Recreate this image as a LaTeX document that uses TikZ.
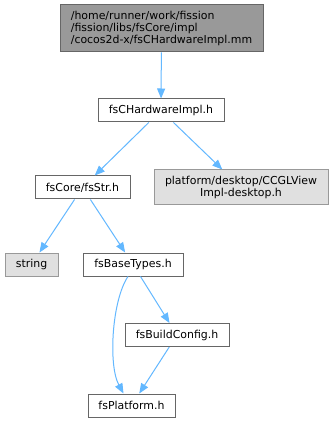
\documentclass[tikz,border=0pt]{standalone}
\usepackage{fontspec}
\setmainfont{DejaVu Sans}
\usetikzlibrary{arrows.meta,calc}
\definecolor{edgeblue}{HTML}{63B8FF}
\definecolor{boxgray}{HTML}{666666}
\definecolor{lightfill}{HTML}{E0E0E0}
\definecolor{darkfill}{HTML}{999999}
\begin{document}
\begin{tikzpicture}[x=0.75pt,y=-0.75pt,
  box/.style={draw=boxgray, fill=white, line width=0.75pt, inner sep=2pt,
    font=\fontsize{8.2}{9.3}\selectfont, minimum height=17.25pt},
  extbox/.style={box, draw=darkfill, fill=lightfill},
  edge/.style={draw=edgeblue, line width=0.75pt, -{Triangle[length=7.5pt,width=6pt]}}]
\fill[white] (0,0) rectangle (333,423);
\useasboundingbox (0,0) rectangle (333,423);
\node[box, fill=darkfill, align=left, minimum width=152.25pt, minimum height=35.25pt] (top) at (161.5,28.5)
  {/home/runner/work/fission\\/fission/libs/fsCore/impl\\/cocos2d-x/fsCHardwareImpl.mm};
\node[box, minimum width=94.5pt] (hw) at (161,110.5) {fsCHardwareImpl.h};
\node[box, minimum width=71.25pt] (str) at (82.5,187.5) {fsCore/fsStr.h};
\node[extbox, align=center, minimum width=130.5pt, minimum height=26.25pt] (plat) at (241,187.5)
  {platform/desktop/CCGLView\\Impl-desktop.h};
\node[extbox, minimum width=39.75pt] (string) at (31.5,264.5) {string};
\node[box, minimum width=75pt] (base) at (133,264.5) {fsBaseTypes.h};
\node[box, minimum width=78pt] (build) at (177,335) {fsBuildConfig.h};
\node[box, minimum width=65.25pt] (platf) at (131.5,405.5) {fsPlatform.h};
\draw[edge] (top) -- (hw);
\draw[edge] (hw) -- (str);
\draw[edge] (hw) -- (plat);
\draw[edge] (str) -- (string);
\draw[edge] (str) -- (base);
\draw[edge] (base) -- (build);
\draw[edge] (build) -- (platf);
\draw[edge] ($(base.south)+(-5,0)$) .. controls (112,300) and (108,365) .. ($(platf.north)+(-8,0)$);
\end{tikzpicture}
\end{document}
